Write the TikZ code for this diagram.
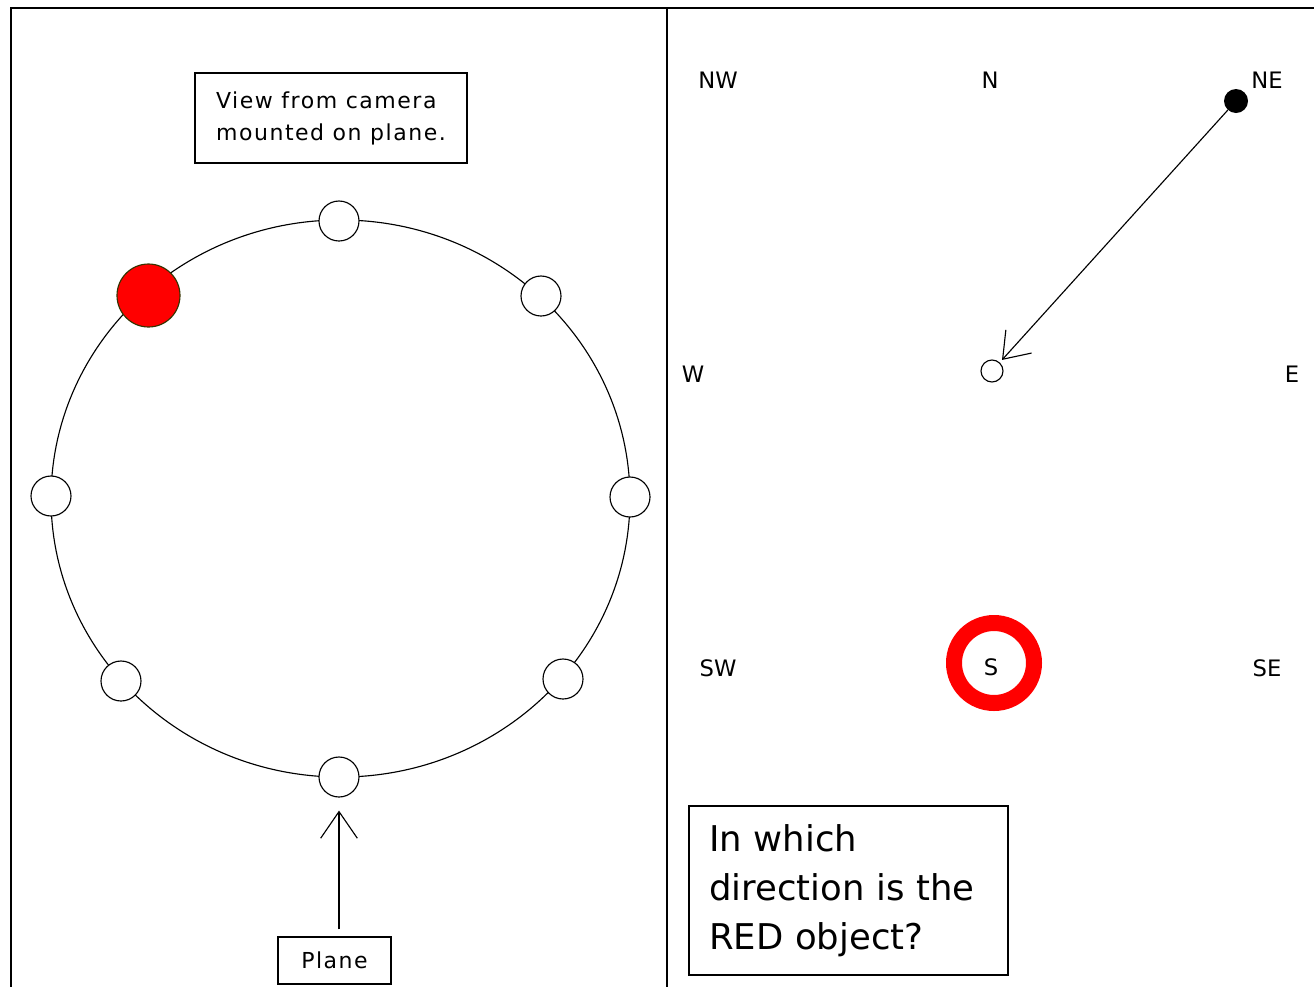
\documentclass[tikz,border=0pt]{standalone}
\usepackage{fontspec}
\setmainfont{DejaVu Sans}
\newfontfamily\labfont[LetterSpace=7]{DejaVu Sans}
\usetikzlibrary{arrows.meta}
\begin{document}
\begin{tikzpicture}[x=0.75pt,y=-0.75pt,
  thinline/.style={line width=0.85pt},
  frameline/.style={line width=1.5pt},
  spot/.style={circle, draw, thinline, fill=white, minimum size=30pt, inner sep=0pt},
  redspot/.style={circle, draw={rgb,255:red,51;green,51;blue,0}, thinline, fill=red, minimum size=47.25pt, inner sep=0pt},
  labelbox/.style={draw, thinline, inner sep=0pt, font=\labfont\fontsize{16.5}{24}\selectfont},
  compass/.style={font=\fontsize{17}{20}\selectfont, inner sep=0pt},
]
\useasboundingbox (0,0) rectangle (1314,986);
\fill[white] (0,0) rectangle (1314,986);
% frame
\draw[frameline] (11,1000) -- (11,8) -- (1330,8);
\draw[frameline] (667,8) -- (667,1000);

% left panel: ring of objects
\draw[thinline] (340.5,498.5) ellipse [x radius=217.1pt, y radius=208.9pt];
\node[spot] (top) at (339,221) {};
\node[spot] (ur) at (541,296) {};
\node[spot] (r) at (630,497) {};
\node[spot] (lr) at (563,679) {};
\node[spot] (bot) at (339,777) {};
\node[spot] (ll) at (121,681) {};
\node[spot] (l) at (51,496) {};
\node[redspot] (red) at (148.5,295.5) {};

\node[labelbox, minimum width=204pt, minimum height=67.5pt, align=left] (view) at (331,118) {View from camera\\mounted on plane.};
\node[labelbox, minimum width=84.75pt, minimum height=35.25pt] (plane) at (334.5,960.5) {Plane};
\draw[thinline, -{Straight Barb[length=20pt,width=27.5pt]}, shorten <=5.25pt, shorten >=9.75pt] (plane.north -| bot.south) -- (bot.south);

% right panel: compass
\node[circle, draw=red, line width=12pt, minimum size=60pt, inner sep=0pt] (ring) at (994,663) {};
\node[compass] (nw) at (718,80) {NW};
\node[compass] (n) at (990,80) {N};
\node[compass] (ne) at (1267,80) {NE};
\node[compass] (w) at (693,374) {W};
\node[compass] (e) at (1292,374) {E};
\node[compass] (sw) at (718,668) {SW};
\node[compass] (s) at (991,667) {S};
\node[compass] (se) at (1267,668) {SE};

\node[circle, fill=black, minimum size=18pt, inner sep=0pt] (nedot) at (1236,101) {};
\node[circle, draw, thinline, fill=white, minimum size=16.5pt, inner sep=0pt] (ctr) at (992,371) {};
\draw[thinline, -{Straight Barb[length=18pt,width=26pt]}, shorten >=2.5pt] (nedot) -- (ctr);

\node[draw, thinline, minimum width=239.25pt, minimum height=126.75pt, inner xsep=15pt, inner ysep=0pt, text width=209.25pt, align=left, font=\fontsize{26.6}{36.75}\selectfont] (q) at (848.5,890.5) {In which\\direction is the\\RED object?};
\end{tikzpicture}
\end{document}
